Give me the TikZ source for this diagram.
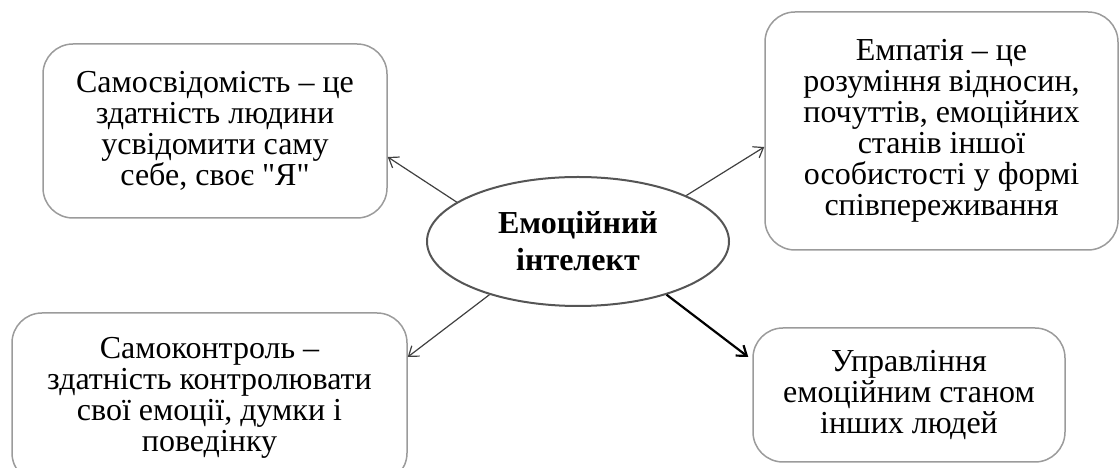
\documentclass[tikz,border=0pt]{standalone}
\usepackage{fontspec}
\setmainfont{Liberation Serif}
\usepackage{tikz}
\usetikzlibrary{arrows.meta,shapes,positioning}
\usepackage{xcolor}
\definecolor{boxgray}{RGB}{155,155,155}
\definecolor{ovalgray}{RGB}{85,85,85}
\tikzstyle{infobox} = [rectangle, draw=boxgray, line width=1.5pt, rounded corners=30pt, align=center, font=\fontsize{32}{31}\selectfont]
\tikzstyle{arrow} = [line width=1.2pt, -{Straight Barb[length=9pt,width=13pt]}, color=black!75]

\begin{document}
\begin{tikzpicture}[x=1pt, y=1pt]
    \useasboundingbox (0,0) rectangle (1120,468);
    \clip (0,0) rectangle (1120,468);

    % Centre
    \node[ellipse, draw=ovalgray, line width=2pt, minimum width=302pt, minimum height=129pt, align=center, font=\bfseries\fontsize{32}{37}\selectfont] (emo) at (578,226.5) {Емоційний\\інтелект};

    % Boxes
    \node[infobox, minimum width=344pt, minimum height=174pt] (selfaware) at (215,337) {Самосвідомість – це\\здатність людини\\усвідомити саму\\себе, своє \textquotedbl Я\textquotedbl};
    \node[infobox, minimum width=353pt, minimum height=238pt] (empathy) at (941.5,337) {Емпатія – це\\розуміння відносин,\\почуттів, емоційних\\станів іншої\\особистості у формі\\співпереживання};
    \node[infobox, minimum width=395pt, minimum height=170pt] (selfctrl) at (209.5,70) {Самоконтроль –\\здатність контролювати\\свої емоції, думки і\\поведінку};
    \node[infobox, minimum width=312pt, minimum height=134pt] (manage) at (909,73) {Управління\\емоційним станом\\інших людей};

    % Arrows
    \draw[arrow] (emo.162) -- ([yshift=-26pt]selfaware.east);
    \draw[arrow] (emo.23) -- ([yshift=-16pt]empathy.west);
    \draw[arrow] (emo.211) -- ([yshift=41pt]selfctrl.east);
    \draw[arrow, color=black, line width=2.2pt] (emo.-31) -- ([xshift=-4pt, yshift=38pt]manage.west);
\end{tikzpicture}
\end{document}
